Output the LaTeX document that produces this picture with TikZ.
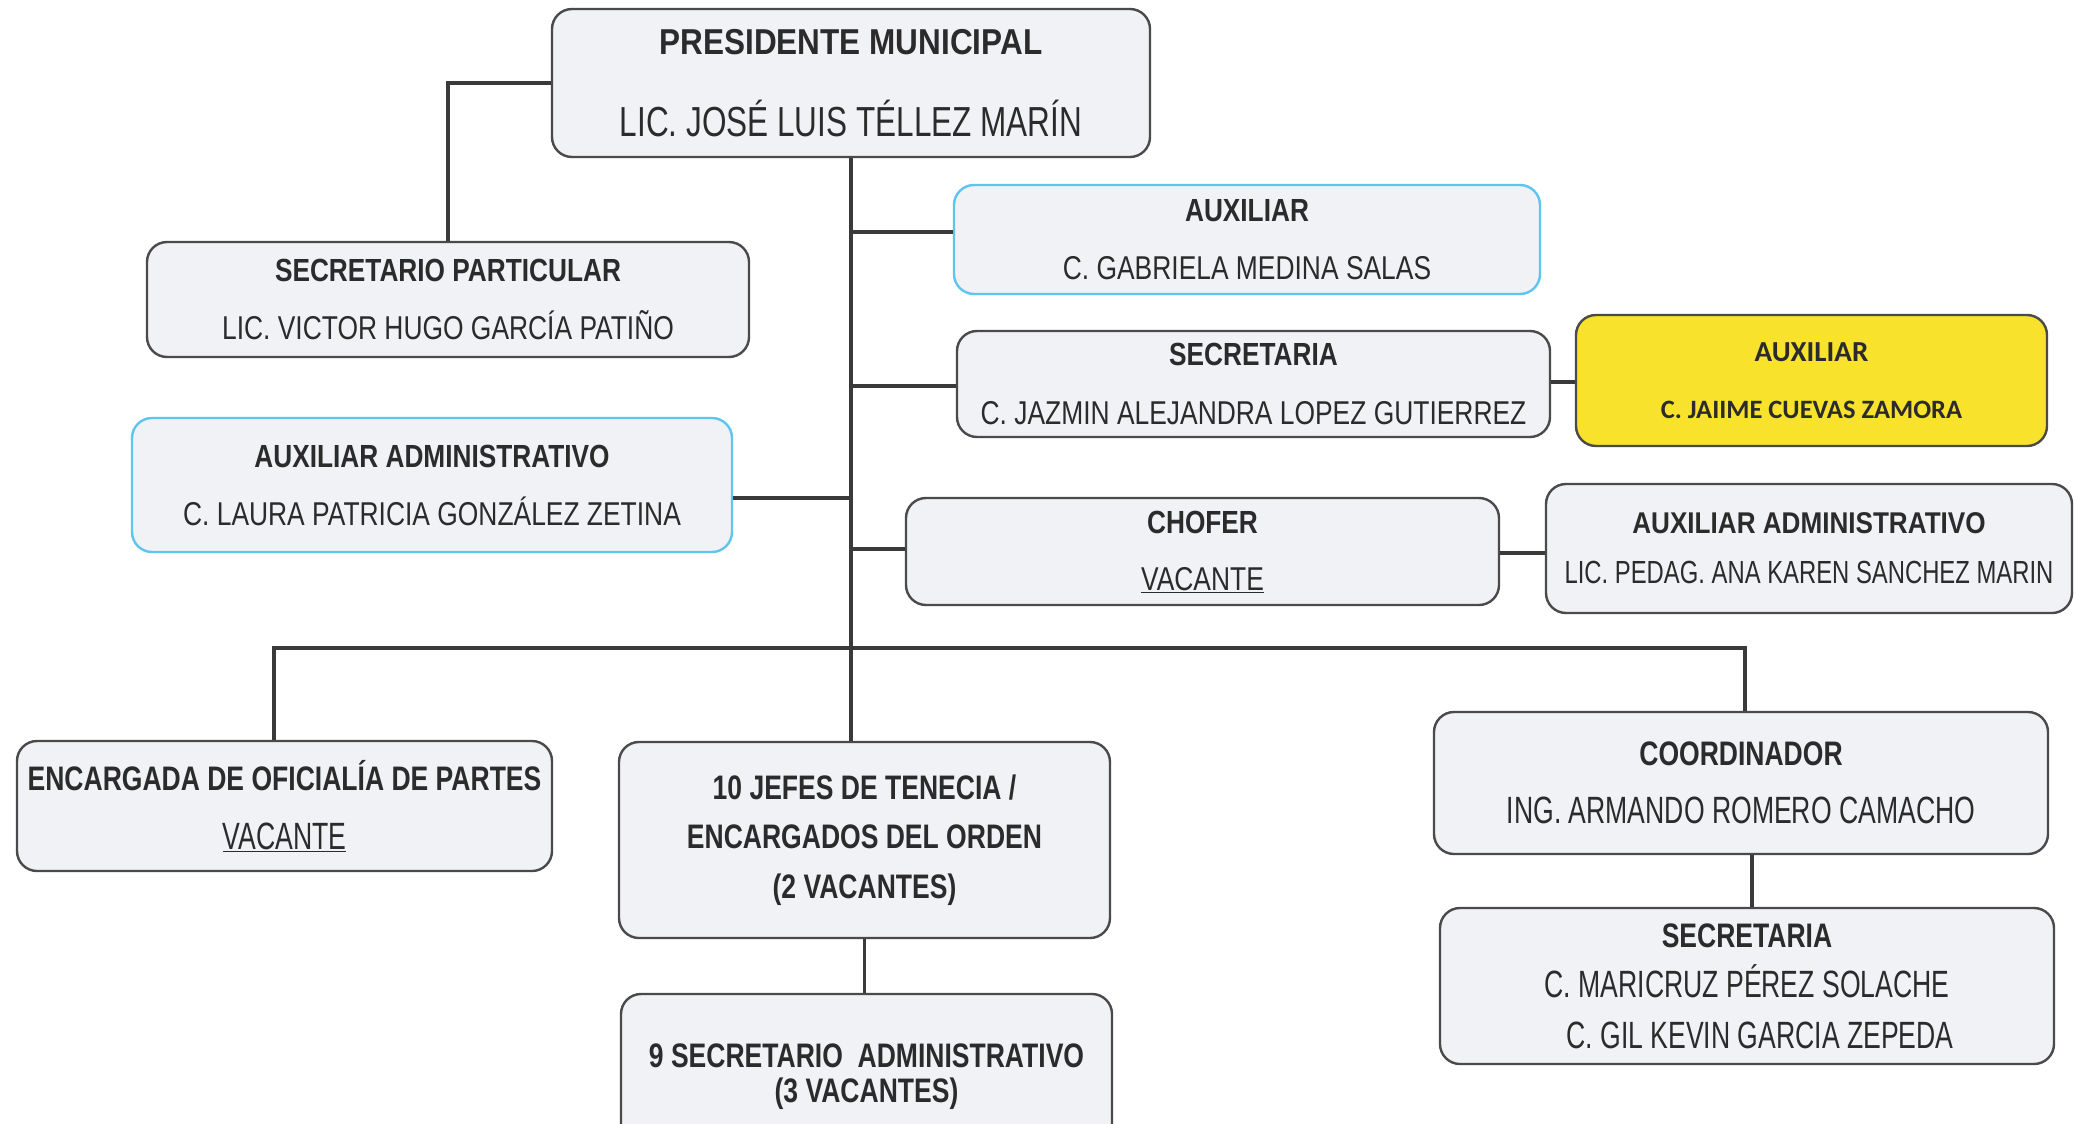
\documentclass[tikz,border=0pt]{standalone}
\usepackage{fontspec}
\setmainfont{Liberation Sans}
\newfontfamily\calib{Carlito}
\usepackage{graphicx}
\newcommand\tx[3]{\scalebox{#1}[1]{\fontsize{#2}{#2}\selectfont #3}}
\newcommand\tb[3]{\scalebox{#1}[1]{\fontsize{#2}{#2}\selectfont\bfseries #3}}
\newcommand\cbf[2]{{\fontsize{#1}{#1}\calib\bfseries #2}}
\definecolor{boxfill}{HTML}{F1F2F5}
\definecolor{boxline}{HTML}{4A4A4A}
\definecolor{skyb}{HTML}{5CC6EE}
\definecolor{yel}{HTML}{F8E22C}
\definecolor{lineclr}{HTML}{3A3A3A}
\definecolor{txt}{HTML}{2B2B2B}
\tikzset{
  orgbox/.style={draw=boxline, fill=boxfill, line width=2.4pt, rounded corners=20pt,
    inner sep=0pt, align=center, anchor=center, text=txt},
  bluebox/.style={orgbox, draw=skyb},
  yelbox/.style={orgbox, fill=yel, draw=boxline},
  conn/.style={draw=lineclr, line width=3.5pt},
  sp/.style={font=\fontsize{10}{#1}\selectfont}
}
\begin{document}
\begin{tikzpicture}[x=1pt,y=-1pt]
\useasboundingbox (0,0) rectangle (2075,1124);
\fill[white] (0,0) rectangle (2075,1124);
\clip (0,0) rectangle (2075,1124);

\node[orgbox, sp=82, minimum width=598pt, minimum height=148pt] (pres) at (851,83)
  {\tb{0.875}{36}{PRESIDENTE MUNICIPAL}\\\tx{0.75}{42}{LIC. JOSÉ LUIS TÉLLEZ MARÍN}};
\node[orgbox, sp=58, minimum width=602pt, minimum height=115pt] (secpart) at (448,299.5)
  {\tb{0.82}{32}{SECRETARIO PARTICULAR}\\\tx{0.8}{33}{LIC. VICTOR HUGO GARCÍA PATIÑO}};
\node[bluebox, sp=58, minimum width=600pt, minimum height=134pt] (auxL) at (432,485)
  {\tb{0.82}{32}{AUXILIAR ADMINISTRATIVO}\\\tx{0.8}{33}{C. LAURA PATRICIA GONZÁLEZ ZETINA}};
\node[bluebox, sp=58, minimum width=586pt, minimum height=109pt] (aux) at (1247,239.5)
  {\tb{0.82}{32}{AUXILIAR}\\\tx{0.8}{33}{C. GABRIELA MEDINA SALAS}};
\node[orgbox, sp=59, minimum width=593pt, minimum height=106pt] (sec) at (1253.5,384)
  {\tb{0.82}{32}{SECRETARIA}\\\tx{0.8}{33}{C. JAZMIN ALEJANDRA LOPEZ GUTIERREZ}};
\node[yelbox, sp=57, minimum width=471pt, minimum height=131pt] (yel) at (1811.5,380.5)
  {\cbf{29}{AUXILIAR}\\\cbf{26.5}{C. JAIIME CUEVAS ZAMORA}};
\node[orgbox, sp=57, minimum width=593pt, minimum height=107pt] (chofer) at (1202.5,551.5)
  {\tb{0.82}{32}{CHOFER}\\\tx{0.8}{33}{\underline{VACANTE}}};
\node[orgbox, sp=50, minimum width=526pt, minimum height=129pt] (auxR) at (1809,548.5)
  {\tb{0.87}{30}{AUXILIAR ADMINISTRATIVO}\\\tx{0.745}{32}{LIC. PEDAG. ANA KAREN SANCHEZ MARIN}};
\node[orgbox, sp=59, minimum width=535pt, minimum height=130pt] (enc) at (284.5,806)
  {\tb{0.78}{34}{ENCARGADA DE OFICIALÍA DE PARTES}\\\tx{0.7}{38}{\underline{VACANTE}}};
\node[orgbox, sp=49.5, minimum width=491pt, minimum height=196pt] (jefes) at (864.5,840)
  {\tb{0.78}{34}{10 JEFES DE TENECIA /}\\\tb{0.78}{34}{ENCARGADOS DEL ORDEN}\\\tb{0.78}{34}{(2 VACANTES)}};
\node[orgbox, sp=35, minimum width=491pt, minimum height=165pt] (sec9) at (866.5,1076.5)
  {\tb{0.78}{34}{9 SECRETARIO\ \ ADMINISTRATIVO}\\\tb{0.78}{34}{(3 VACANTES)}};
\node[orgbox, sp=58, minimum width=614pt, minimum height=142pt] (coord) at (1741,783)
  {\tb{0.78}{34}{COORDINADOR}\\\tx{0.7}{38}{ING. ARMANDO ROMERO CAMACHO}};
\node[orgbox, sp=50.5, minimum width=614pt, minimum height=156pt] (sec2) at (1747,986)
  {\tb{0.78}{34}{SECRETARIA}\\\tx{0.7}{38}{C. MARICRUZ PÉREZ SOLACHE}\\\hspace*{26pt}\tx{0.7}{38}{C. GIL KEVIN GARCIA ZEPEDA}};

% connectors
\coordinate (tb1) at (851,232);
\coordinate (tb2) at (851,386);
\coordinate (tb3) at (851,498);
\coordinate (tb4) at (851,549);
\coordinate (sy) at (1560,382);
\coordinate (ca) at (1500,553);
\coordinate (barL) at (274,648);
\coordinate (barR) at (1745,648);
\coordinate (cs) at (1752,0);

\draw[conn] (pres.west) -| (secpart.north);
\draw[conn] (pres.south) -- (pres.south |- jefes.north);
\draw[conn] (tb1) -- (tb1 -| aux.west);
\draw[conn] (tb2) -- (tb2 -| sec.west);
\draw[conn] (tb3) -- (tb3 -| auxL.east);
\draw[conn] (tb4) -- (tb4 -| chofer.west);
\draw[conn] (sy -| sec.east) -- (sy -| yel.west);
\draw[conn] (ca -| chofer.east) -- (ca -| auxR.west);
\draw[conn] (barL |- enc.north) -- (barL) -- (barR) -- (barR |- coord.north);
\draw[conn] (jefes.south) -- (jefes.south |- sec9.north);
\draw[conn] (cs |- coord.south) -- (cs |- sec2.north);
\end{tikzpicture}
\end{document}
